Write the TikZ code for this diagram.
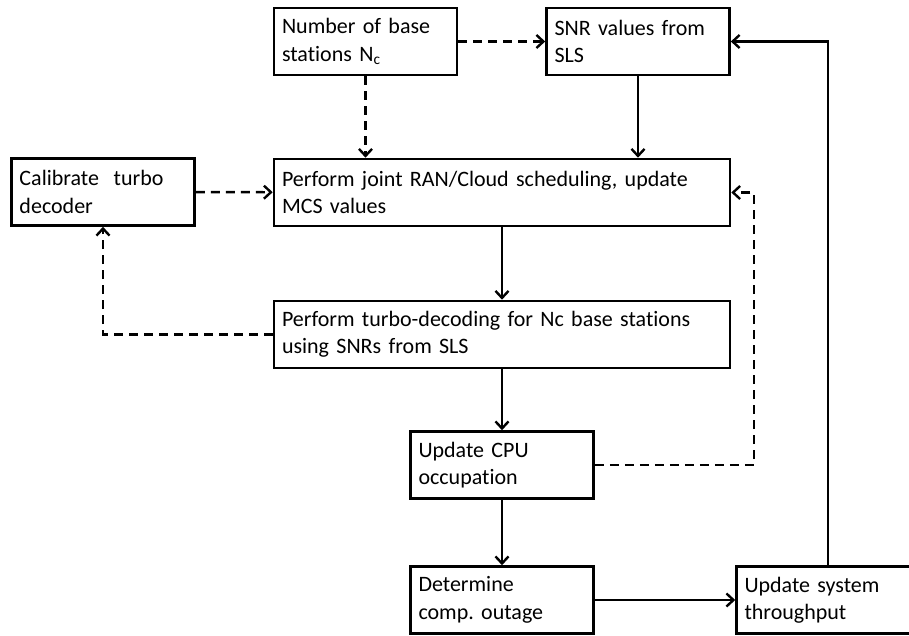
\documentclass[tikz,border=0pt]{standalone}
\usepackage{fontspec}
\setmainfont{Carlito}[Ligatures=NoCommon]
\usetikzlibrary{arrows.meta}
\usetikzlibrary{positioning}
\frenchspacing

\begin{document}
\begin{tikzpicture}[
  x=1pt, y=-1pt,
  > = {Straight Barb[length=7pt,width=13pt,line width=2.4pt]},
  box/.style = {draw, line width=2.6pt, rectangle, align=left, inner xsep=8pt, inner ysep=0pt,
    minimum height=67pt, font=\fontsize{22}{27.5}\selectfont},
  small/.style = {box, minimum width=183pt, text width=167pt},
  wide/.style = {box, minimum width=456pt, text width=440pt},
  flow/.style = {->, line width=2.4pt},
  dflow/.style = {flow, dash pattern=on 9pt off 6pt}
  ]
  \clip (0,0) rectangle (909,636);

  \node[small] (nbs)    at (365.5,41.5) {Number of base\\stations N\textsubscript{c}};
  \node[small] (snr)    at (638,41.5)   {SNR values from\\SLS};
  \node[wide]  (sched)  at (502,192.5)  {Perform joint RAN/Cloud scheduling, update\\MCS values};
  \node[small] (calib)  at (103,192)    {Calibrate~ turbo\\decoder};
  \node[wide]  (decode) at (502,334.5)  {Perform turbo-decoding for Nc base stations\\using SNRs from SLS};
  \node[small] (cpu)    at (502,465)    {Update CPU\\occupation};
  \node[small] (outage) at (502,600)    {Determine\\comp. outage};
  \node[small] (thr)    at (828,600)    {Update system\\throughput};

  % dashed inputs
  \draw[dflow] (nbs) -- (snr);
  \draw[dflow] (nbs) -- (nbs |- sched.north);
  \draw[dflow] (calib) -- (sched);
  \draw[dflow] (decode.west) -| (calib.south);
  \draw[dflow] (cpu.east) -- ++(159,0) |- (sched.east);

  % main flow
  \draw[flow] (snr) -- (snr |- sched.north);
  \draw[flow] (sched) -- (decode);
  \draw[flow] (decode) -- (cpu);
  \draw[flow] (cpu) -- (outage);
  \draw[flow] (outage) -- (thr);
  \draw[flow] (thr.north) |- (snr.east);

\end{tikzpicture}
\end{document}
